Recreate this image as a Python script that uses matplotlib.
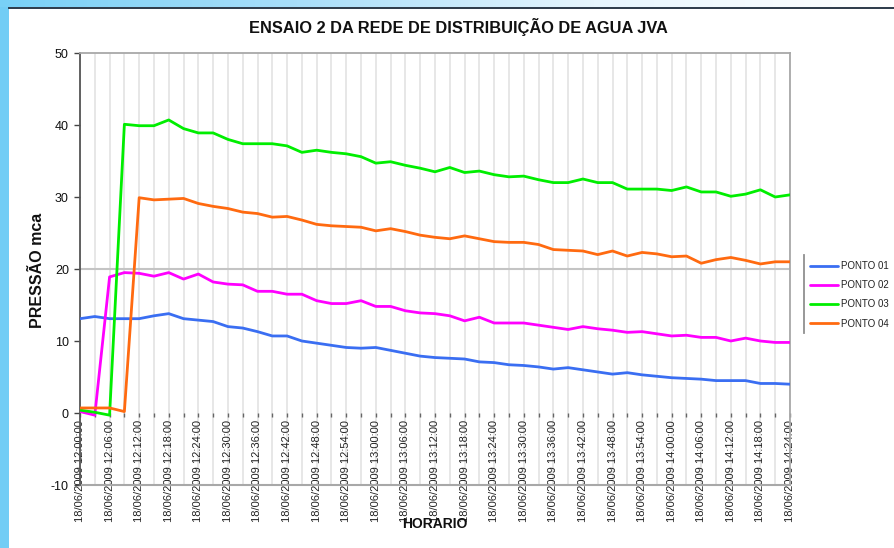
import numpy as np
import matplotlib
matplotlib.use("Agg")
import matplotlib.pyplot as plt
from matplotlib.colors import LinearSegmentedColormap
from matplotlib.lines import Line2D

plt.rcParams['font.family'] = ['Liberation Sans', 'DejaVu Sans']
plt.rcParams['axes.unicode_minus'] = False

# ---- data (readings every 3 minutes from 12:00 to 14:24) ----
times = ["12:00", "12:03", "12:06", "12:09", "12:12", "12:15", "12:18", "12:21", "12:24", "12:27",
         "12:30", "12:33", "12:36", "12:39", "12:42", "12:45", "12:48", "12:51", "12:54", "12:57",
         "13:00", "13:03", "13:06", "13:09", "13:12", "13:15", "13:18", "13:21", "13:24", "13:27",
         "13:30", "13:33", "13:36", "13:39", "13:42", "13:45", "13:48", "13:51", "13:54", "13:57",
         "14:00", "14:03", "14:06", "14:09", "14:12", "14:15", "14:18", "14:21", "14:24"]
date_str = "18/06/2009"

ponto01 = [13.1, 13.4, 13.1, 13.1, 13.1, 13.5, 13.8, 13.1, 12.9, 12.7,
           12.0, 11.8, 11.3, 10.7, 10.7, 10.0, 9.7, 9.4, 9.1, 9.0,
           9.1, 8.7, 8.3, 7.9, 7.7, 7.6, 7.5, 7.1, 7.0, 6.7,
           6.6, 6.4, 6.1, 6.3, 6.0, 5.7, 5.4, 5.6, 5.3, 5.1,
           4.9, 4.8, 4.7, 4.5, 4.5, 4.5, 4.1, 4.1, 4.0]
ponto02 = [0.2, -0.3, 18.9, 19.5, 19.4, 19.0, 19.5, 18.6, 19.3, 18.2,
           17.9, 17.8, 16.9, 16.9, 16.5, 16.5, 15.6, 15.2, 15.2, 15.6,
           14.8, 14.8, 14.2, 13.9, 13.8, 13.5, 12.8, 13.3, 12.5, 12.5,
           12.5, 12.2, 11.9, 11.6, 12.0, 11.7, 11.5, 11.2, 11.3, 11.0,
           10.7, 10.8, 10.5, 10.5, 10.0, 10.4, 10.0, 9.8, 9.8]
ponto03 = [0.4, 0.1, -0.3, 40.1, 39.9, 39.9, 40.7, 39.5, 38.9, 38.9,
           38.0, 37.4, 37.4, 37.4, 37.1, 36.2, 36.5, 36.2, 36.0, 35.6,
           34.7, 34.9, 34.4, 34.0, 33.5, 34.1, 33.4, 33.6, 33.1, 32.8,
           32.9, 32.4, 32.0, 32.0, 32.5, 32.0, 32.0, 31.1, 31.1, 31.1,
           30.9, 31.4, 30.7, 30.7, 30.1, 30.4, 31.0, 30.0, 30.3]
ponto04 = [0.7, 0.7, 0.7, 0.2, 29.9, 29.6, 29.7, 29.8, 29.1, 28.7,
           28.4, 27.9, 27.7, 27.2, 27.3, 26.8, 26.2, 26.0, 25.9, 25.8,
           25.3, 25.6, 25.2, 24.7, 24.4, 24.2, 24.6, 24.2, 23.8, 23.7,
           23.7, 23.4, 22.7, 22.6, 22.5, 22.0, 22.5, 21.8, 22.3, 22.1,
           21.7, 21.8, 20.8, 21.3, 21.6, 21.2, 20.7, 21.0, 21.0]

series_names = ["PONTO 01", "PONTO 02", "PONTO 03", "PONTO 04"]
series_colors = ["#3a6ef2", "#ff00ff", "#00ee00", "#ff6a10"]

title = "ENSAIO 2 DA REDE DE DISTRIBUIÇÃO DE AGUA JVA"
ylabel = "PRESSÃO mca"
xlabel = "HORARIO"
yticks = [-10, 0, 10, 20, 30, 40, 50]

W, H = 895, 548
fig = plt.figure(figsize=(W / 100, H / 100), dpi=100)
fig.patch.set_facecolor("white")

# ---- decorative frame (screenshot border) ----
grad_ax = fig.add_axes([0, 1 - 7 / H, 1, 7 / H])
cmap = LinearSegmentedColormap.from_list("g", ["#78d0f6", "#a8defa", "#e6f5fd", "#ffffff"])
grad_ax.imshow(np.linspace(0, 1, 256)[None, :], aspect="auto", cmap=cmap, extent=[0, 1, 0, 1])
grad_ax.set_axis_off()
fig.add_artist(Line2D([9 / W, 1], [1 - 7.5 / H, 1 - 7.5 / H], color="#1a2a3a", lw=1.3,
                      transform=fig.transFigure))
left_ax = fig.add_axes([0, 0, 9 / W, 1 - 7 / H])
left_ax.set_facecolor("#72cdf5")
left_ax.set_xticks([]); left_ax.set_yticks([])
for s in left_ax.spines.values():
    s.set_visible(False)

# ---- main axes ----
x0, x1 = 80, 790
ytop, ybot = 53, 485
ax = fig.add_axes([x0 / W, (H - ybot) / H, (x1 - x0) / W, (ybot - ytop) / H])
ax.spines["bottom"].set_position(("data", 0))
ax.spines["bottom"].set_color("none")
ax.spines["left"].set_color("#555555")
ax.spines["left"].set_linewidth(1.3)
for s in ["top", "right"]:
    ax.spines[s].set_color("#a8a8a8")
    ax.spines[s].set_linewidth(1.3)

x = np.arange(len(times))

for k in x:
    ax.axvline(k, color="#e0e0e0", lw=1.1, zorder=1)
ax.axhline(20, color="#c4c4c4", lw=1.5, zorder=1)

for vals, name, col in zip([ponto01, ponto02, ponto03, ponto04], series_names, series_colors):
    ax.plot(x, vals, color=col, lw=2.0, label=name, zorder=3,
            solid_joinstyle="round", solid_capstyle="round")

ax.set_xlim(0, len(times) - 1)
ax.set_ylim(-10, 50)
ax.set_yticks(yticks)
ax.tick_params(axis="y", labelsize=9, length=4, width=1, color="#444444", labelcolor="#111111", pad=4)

ax.set_xticks(x)
ax.set_xticklabels([f"{date_str} {t}:00" if i % 2 == 0 else "" for i, t in enumerate(times)],
                   rotation=90, fontsize=8, color="#222222")
ax.tick_params(axis="x", length=3, width=1, color="#666666", pad=2)

ax.axhline(-10, color="#a8a8a8", lw=1.5, clip_on=False, zorder=2)

# ---- texts ----
fig.text(458 / W, 1 - 27 / H, title, ha="center", va="center", fontsize=11.8, fontweight="bold",
         color="#111111")
fig.text(38 / W, 1 - 270 / H, ylabel, ha="center", va="center", rotation=90, fontsize=11.5,
         fontweight="bold", color="#111111")
fig.text(435 / W, 1 - 524 / H, xlabel, ha="center", va="center", fontsize=10,
         fontweight="bold", color="#111111")

# ---- legend ----
handles, labels = ax.get_legend_handles_labels()
leg = fig.legend(handles, labels, loc="upper left", bbox_to_anchor=(810 / W, 1 - 261 / H),
                 frameon=False, fontsize=7, handlelength=2.9, handletextpad=0.3,
                 labelspacing=0.95, borderpad=0, borderaxespad=0)
for t in leg.get_texts():
    t.set_color("#222222")
fig.add_artist(Line2D([804 / W, 804 / W], [1 - 255 / H, 1 - 333 / H], color="#909090", lw=1.3,
                      transform=fig.transFigure))

fig.savefig("out.png", dpi=100)
